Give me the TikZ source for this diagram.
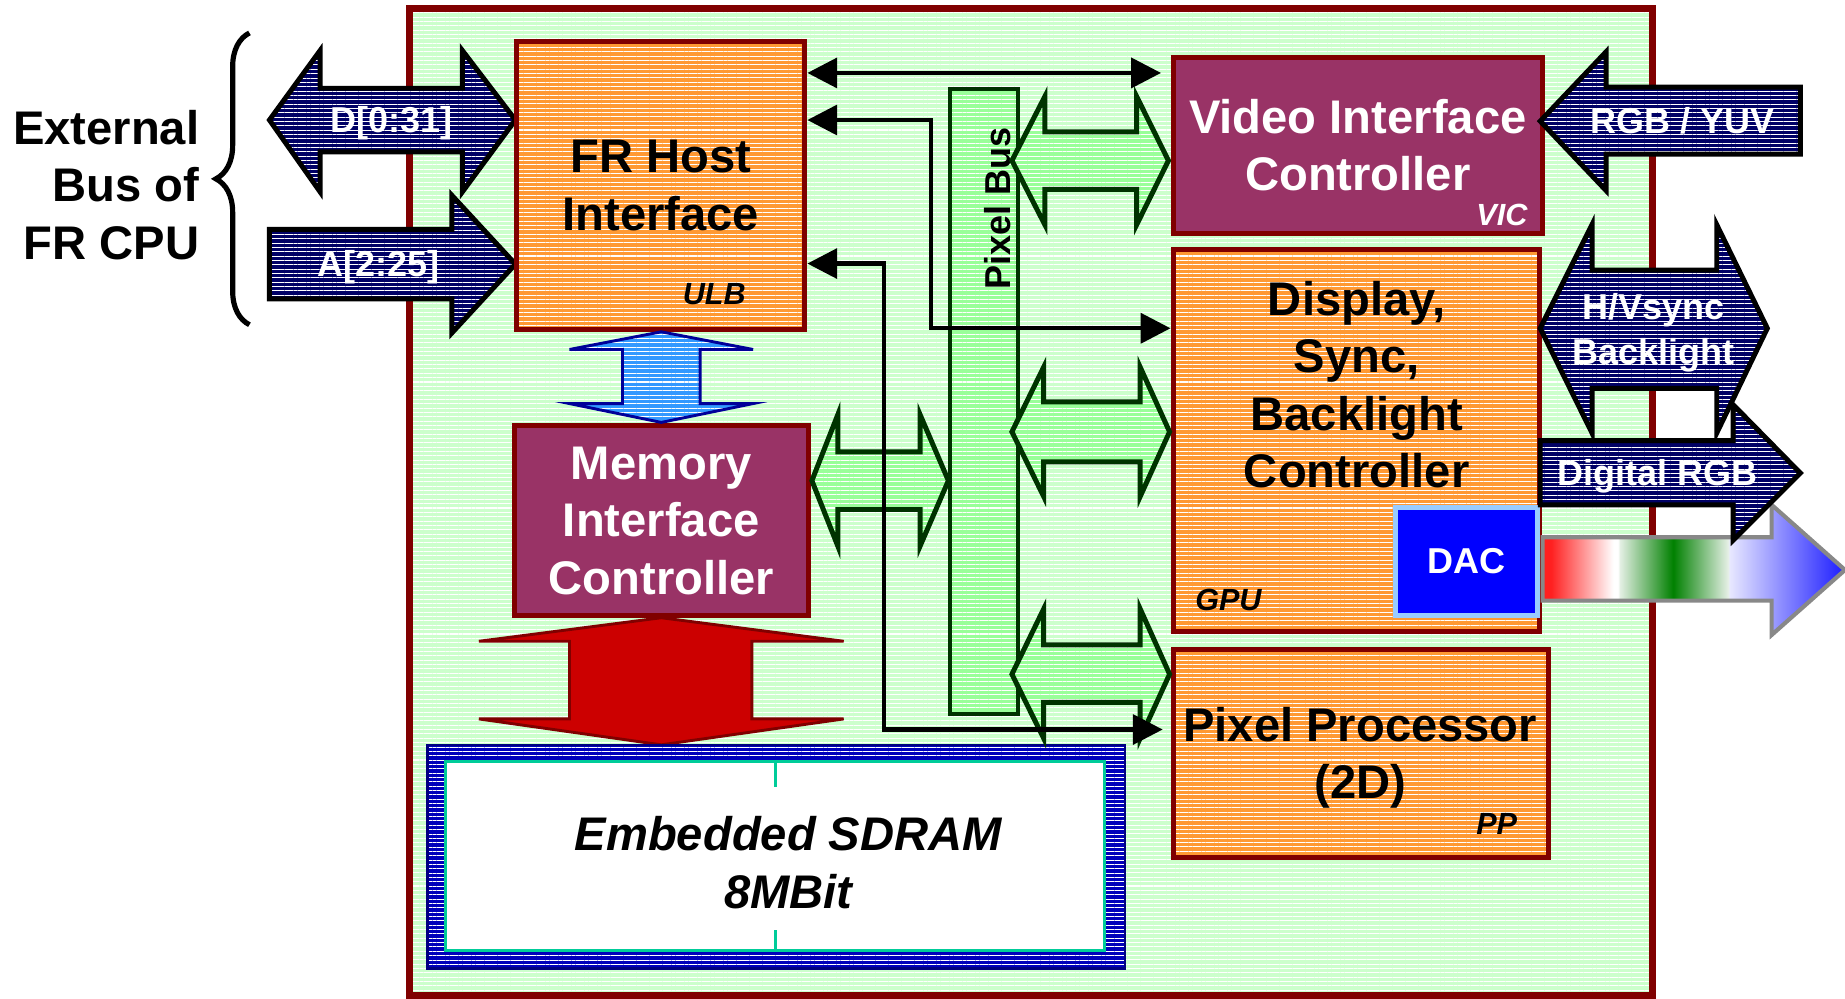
\documentclass[tikz,border=0pt]{standalone}
\usepackage{fontspec}
\setmainfont{Liberation Sans}
\usepackage{tikz}
\usetikzlibrary{arrows.meta, patterns.meta, decorations.pathreplacing}

\definecolor{BoxRed}{HTML}{800000}
\definecolor{ChipGreen}{HTML}{CCFFCC}
\definecolor{BusGreen}{HTML}{99FF99}
\definecolor{DarkGreen}{HTML}{003300}
\definecolor{HostOrange}{HTML}{FF9933}
\definecolor{Plum}{HTML}{993366}
\definecolor{Navy}{HTML}{000066}
\definecolor{SkyBlue}{HTML}{3399FF}
\definecolor{SkyEdge}{HTML}{000099}
\definecolor{RamBlue}{HTML}{0000BB}
\definecolor{RamEdge}{HTML}{000080}
\definecolor{Teal}{HTML}{00CC99}
\definecolor{DacBlue}{HTML}{0000FF}
\definecolor{DacEdge}{HTML}{99CCFF}
\definecolor{MemRed}{HTML}{CC0000}
\definecolor{FadeEdge}{HTML}{888888}
\definecolor{FadeRed}{HTML}{FF2020}
\definecolor{FadeMint}{HTML}{E6F0E6}
\definecolor{FadeGreen}{HTML}{008000}
\definecolor{FadeLilac}{HTML}{E8E8FF}
\definecolor{FadeBlue}{HTML}{2020FF}

% analog output: red, green, blue ramps along the arrow
\pgfdeclarehorizontalshading{rgbfade}{100bp}{color(0bp)=(FadeRed); color(26.4bp)=(FadeRed);
  color(36.7bp)=(white); color(37.5bp)=(white); color(37.7bp)=(FadeMint);
  color(46.6bp)=(FadeGreen); color(55.7bp)=(FadeMint); color(55.9bp)=(FadeLilac);
  color(74.6bp)=(FadeBlue); color(100bp)=(FadeBlue)}

\tikzstyle{stripes} = [pattern={Lines[angle=0, distance=1.05pt, line width=0.25pt]}, pattern color=white]
\tikzstyle{finestripes} = [pattern={Lines[angle=0, distance=1.05pt, line width=0.17pt]}, pattern color=white]
\tikzstyle{bigtext} = [font=\fontsize{11.4}{13.9}\selectfont\bfseries, align=center]
\tikzstyle{smalltext} = [font=\fontsize{8.7}{10.8}\selectfont\bfseries, align=center, text=white]
\tikzstyle{tagtext} = [font=\fontsize{7.4}{9}\selectfont\bfseries\itshape]
\tikzstyle{chipbox} = [rectangle, draw=BoxRed, line width=1.7pt, preaction={fill=ChipGreen}, stripes]
\tikzstyle{orangebox} = [rectangle, draw=BoxRed, line width=1.2pt, preaction={fill=HostOrange}, stripes, inner sep=0pt]
\tikzstyle{plumbox} = [rectangle, draw=BoxRed, line width=1.2pt, fill=Plum, text=white, inner sep=0pt]
\tikzstyle{busbar} = [rectangle, draw=DarkGreen, line width=1pt, preaction={fill=BusGreen}, stripes]
\tikzstyle{dacbox} = [rectangle, draw=DacEdge, line width=1.2pt, fill=DacBlue, inner sep=0pt]
\tikzstyle{rambox} = [rectangle, draw=RamEdge, line width=0.6pt, preaction={fill=RamBlue}, finestripes]
\tikzstyle{rambank} = [rectangle, draw=Teal, line width=0.7pt, fill=white]
\tikzstyle{ramtick} = [draw=Teal, line width=0.7pt]
\tikzstyle{navyarrow} = [draw=black, line width=1.2pt, preaction={fill=Navy}, finestripes, line join=miter]
\tikzstyle{greenarrow} = [draw=DarkGreen, line width=1.2pt, preaction={fill=BusGreen}, stripes, line join=miter]
\tikzstyle{bluearrow} = [draw=SkyEdge, line width=0.7pt, preaction={fill=SkyBlue}, stripes]
\tikzstyle{redarrow} = [draw=BoxRed, line width=0.7pt, fill=MemRed]
\tikzstyle{fadearrow} = [draw=FadeEdge, line width=1pt, shading=rgbfade]
\tikzstyle{link} = [line width=1pt, >={Triangle[length=7.2pt, width=7.2pt]}]
\tikzstyle{curly} = [decorate, decoration={brace, amplitude=0.285cm}, line width=1.25pt]

\begin{document}
\begin{tikzpicture}[x=0.01cm, y=-0.01cm]
\useasboundingbox (0,0) rectangle (1568,849);

\node (Chip) [chipbox, minimum width=10.56cm, minimum height=8.385cm] at (876.5,426.75) {};

% CPU side
\node (ExtBus) [bigtext, align=right, anchor=east, inner sep=0pt] at (170,157) {External\\Bus of\\FR CPU};
\draw[curly] (212,276) -- (212,28);

\draw[navyarrow] (229,102) -- (272,43) -- (272,75) -- (393,75) -- (393,43) -- (438,102)
  -- (393,163) -- (393,129) -- (272,129) -- (272,163) -- cycle;
\node (DataBus) [smalltext] at (333,105) {D[0:31]};
\draw[navyarrow] (229,195) -- (384,195) -- (384,166) -- (438,224.5) -- (384,283) -- (384,254)
  -- (229,254) -- cycle;
\node (AddrBus) [smalltext] at (322,227.5) {A[2:25]};

% host and memory
\node (Host) [orangebox, bigtext, minimum width=2.45cm, minimum height=2.45cm] at (561.5,157.5) {FR Host\\Interface};
\node (HostTag) [tagtext] at (607,250) {ULB};

\node (Mem) [plumbox, bigtext, minimum width=2.50cm, minimum height=1.61cm] at (562,442.5) {Memory\\Interface\\Controller};

\draw[bluearrow] (562,282) -- (640,297) -- (595,297) -- (595,343) -- (640,343) -- (562,359)
  -- (484,343) -- (529,343) -- (529,297) -- (484,297) -- cycle;

\draw[redarrow] (562,525) -- (717,545) -- (639,545) -- (639,611) -- (717,611) -- (562,633)
  -- (407,611) -- (484,611) -- (484,545) -- (407,545) -- cycle;

\node (Sdram) [rambox, minimum width=5.925cm, minimum height=1.90cm] at (659.75,728) {};
\node (SdramCore) [rambank, minimum width=5.596cm, minimum height=1.61cm] at (658.8,727.5) {};
\draw[ramtick] (SdramCore.north) -- ++(0,23);
\draw[ramtick] (SdramCore.south) -- ++(0,-19);
\node (SdramText) [bigtext, font=\fontsize{11.4}{13.9}\selectfont\bfseries\itshape] at (670,733) {Embedded SDRAM\\8MBit};

% pixel bus
\node (PixelBus) [busbar, minimum width=0.58cm, minimum height=5.306cm] at (836.3,341) {};
\node (BusLabel) [smalltext, text=black, rotate=90] at (848,177) {Pixel Bus};

% display blocks
\node (Vic) [plumbox, bigtext, minimum width=3.14cm, minimum height=1.49cm] at (1154,123.5) {Video Interface\\Controller};
\node (VicTag) [tagtext, text=white] at (1276.5,183) {VIC};

\node (Disp) [orangebox, minimum width=3.115cm, minimum height=3.25cm] at (1152.75,374.5) {};
\node (DispText) [bigtext] at (1153,327) {Display,\\Sync,\\Backlight\\Controller};
\node (DispTag) [tagtext] at (1044,510) {GPU};
\node (Dac) [dacbox, smalltext, minimum width=1.21cm, minimum height=0.915cm] at (1246.5,477.25) {DAC};

\node (Pp) [orangebox, minimum width=3.19cm, minimum height=1.765cm] at (1156.5,640.25) {};
\node (PpText) [bigtext] at (1156,644) {Pixel Processor\\(2D)};
\node (PpTag) [tagtext] at (1272,700) {PP};

% pixel bus taps
\draw[greenarrow] (690,408.5) -- (712,352.5) -- (712,384) -- (782,384) -- (782,352.5) -- (806,408.5)
  -- (782,464) -- (782,433) -- (712,433) -- (712,464) -- cycle;
\draw[greenarrow] (860,136.5) -- (888,82) -- (888,112) -- (966,112) -- (966,82) -- (993,136.5)
  -- (966,191) -- (966,161) -- (888,161) -- (888,191) -- cycle;
\draw[greenarrow] (860,367) -- (887,312) -- (887,341.5) -- (969,341.5) -- (969,312) -- (994,367)
  -- (969,422) -- (969,392.5) -- (887,392.5) -- (887,422) -- cycle;
\draw[greenarrow] (860,573) -- (887,517.5) -- (887,548) -- (969,548) -- (969,517.5) -- (994,573)
  -- (969,627.5) -- (969,597) -- (887,597) -- (887,627.5) -- cycle;

% register paths from the host
\draw[link, <->] (Host.east |- 0,62) -- ([xshift=-2.3pt]Vic.west |- 0,62);
\draw[link, <->] (Host.east |- 0,102) -| (791,279) -- (Disp.west |- 0,279);
\draw[link, <->] (Host.east |- 0,224) -| (751,620) -- ([xshift=-1.9pt]Pp.west |- 0,620);

% outside world
\draw[navyarrow] (1309,103) -- (1365,44) -- (1365,74) -- (1530,74) -- (1530,131) -- (1365,131)
  -- (1365,162) -- cycle;
\node (VideoIn) [smalltext] at (1430,103) {RGB / YUV};

\shadedraw[fadearrow] (1311,456.6) -- (1505.6,456.6) -- (1505.6,429) -- (1568,484.4) -- (1505.6,539.7)
  -- (1505.6,510.5) -- (1311,510.5) -- cycle;

\draw[navyarrow] (1309,279) -- (1353,191) -- (1353,229.5) -- (1459,229.5) -- (1459,191) -- (1502,279)
  -- (1459,368) -- (1459,330) -- (1353,330) -- (1353,368) -- cycle;
\node (SyncOut) [smalltext] at (1405,283) {H/Vsync\\Backlight};

\draw[navyarrow] (1309,374.5) -- (1473,374.5) -- (1473,344) -- (1530,402) -- (1473,459) -- (1473,429)
  -- (1309,429) -- cycle;
\node (DigitalOut) [smalltext] at (1408.6,405) {Digital RGB};
\end{tikzpicture}
\end{document}
